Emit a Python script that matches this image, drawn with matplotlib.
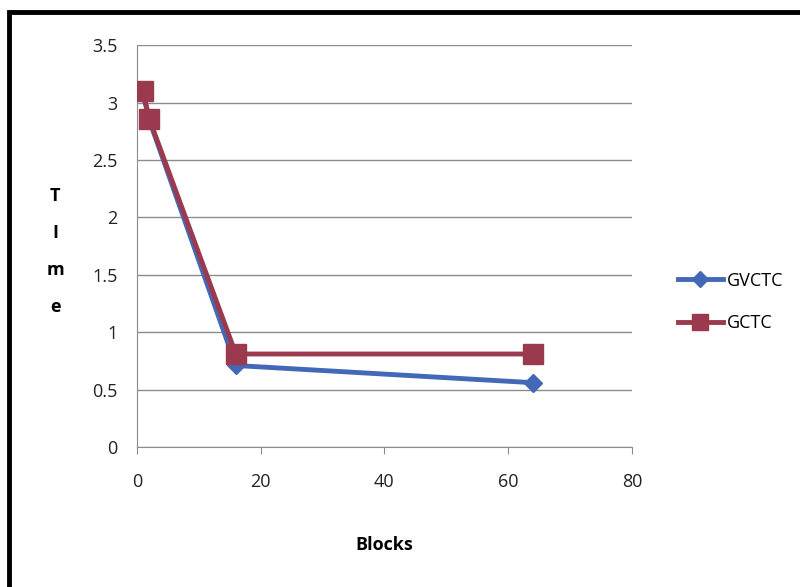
import matplotlib.pyplot as plt
from matplotlib.patches import Rectangle

blocks = [1, 2, 16, 64]
gvctc = [3.08, 2.85, 0.71, 0.56]
gctc = [3.10, 2.86, 0.81, 0.81]

plt.rcParams["font.family"] = ["Open Sans", "DejaVu Sans"]

fig = plt.figure(figsize=(8, 5.87), dpi=100)
ax = fig.add_axes([0.171, 0.2385, 0.619, 0.6845])

ax.plot(blocks, gvctc, color="#4468B8", lw=3.5, marker="D", ms=9,
        label="GVCTC", zorder=3)
ax.plot(blocks, gctc, color="#9B3A4E", lw=3.5, marker="s", ms=14,
        label="GCTC", zorder=4)

ax.set_xlim(0, 80)
ax.set_ylim(0, 3.5)
ax.set_xticks([0, 20, 40, 60, 80])
ax.set_yticks([0, 0.5, 1, 1.5, 2, 2.5, 3, 3.5])
ax.set_yticklabels(["0", "0.5", "1", "1.5", "2", "2.5", "3", "3.5"])
ax.grid(axis="y", color="#8C8C8C", lw=1)
ax.set_axisbelow(True)
for side in ("top", "right"):
    ax.spines[side].set_visible(False)
for side in ("left", "bottom"):
    ax.spines[side].set_color("#8C8C8C")
ax.tick_params(axis="both", labelsize=13, colors="#222222", color="#8C8C8C")
ax.tick_params(axis="x", length=5, pad=14)
ax.tick_params(axis="y", length=0, pad=14)

fig.text(0.48, 0.072, "Blocks", fontsize=13, fontweight="bold",
         ha="center", va="center")
fig.text(0.069, 0.571, "T\nI\nm\ne", fontsize=13, fontweight="bold",
         ha="center", va="center", linespacing=2.35)

fig.legend(*ax.get_legend_handles_labels(), loc="center left",
           bbox_to_anchor=(0.836, 0.486), bbox_transform=fig.transFigure,
           frameon=False, borderpad=0, fontsize=13, handlelength=2.5,
           handletextpad=0.2, labelspacing=1.35, markerscale=0.85)

# black frame around the chart
fig.patches.append(Rectangle((0.011, -0.05), 1.2, 1.03, transform=fig.transFigure,
                             fill=False, ec="black", lw=3.5))

fig.savefig("out.png", dpi=100)
